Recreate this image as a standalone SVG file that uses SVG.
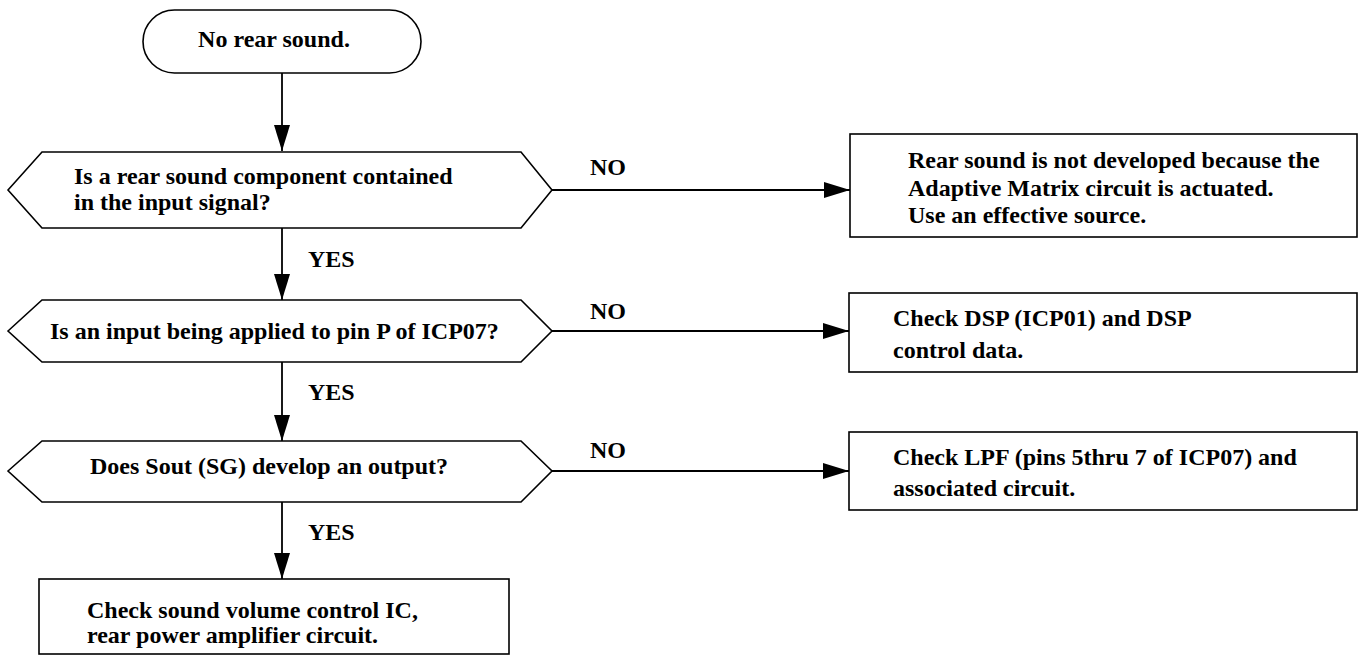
<svg xmlns="http://www.w3.org/2000/svg" width="1359" height="656" viewBox="0 0 1359 656">
  <style>
    .shape { fill: #ffffff; stroke: #000000; stroke-width: 1.6; }
    .label { font-family: "Liberation Serif", "Times New Roman", serif; font-weight: bold; font-size: 24px; fill: #000000; }
    .edge { fill: none; stroke: #000000; stroke-width: 1.8; }
  </style>
  <defs>
    <marker id="arrow" markerUnits="userSpaceOnUse" markerWidth="28" markerHeight="18" refX="26" refY="8" orient="auto">
      <path d="M0,0 L26,8 L0,16 Z" fill="#000000"/>
    </marker>
  </defs>
  <rect width="1359" height="656" fill="#ffffff"/>

  <!-- connectors -->
  <g id="connectors">
    <line class="edge" x1="282" y1="73" x2="282" y2="151" marker-end="url(#arrow)"/>
    <line class="edge" x1="282" y1="228" x2="282" y2="300" marker-end="url(#arrow)"/>
    <line class="edge" x1="282" y1="362" x2="282" y2="441" marker-end="url(#arrow)"/>
    <line class="edge" x1="282" y1="502" x2="282" y2="579" marker-end="url(#arrow)"/>
    <line class="edge" x1="552" y1="190" x2="850" y2="190" marker-end="url(#arrow)"/>
    <line class="edge" x1="552" y1="331" x2="849" y2="331" marker-end="url(#arrow)"/>
    <line class="edge" x1="552" y1="471" x2="849" y2="471" marker-end="url(#arrow)"/>
    <text class="label" x="308" y="267">YES</text>
    <text class="label" x="308" y="400">YES</text>
    <text class="label" x="308" y="540">YES</text>
    <text class="label" x="590" y="175">NO</text>
    <text class="label" x="590" y="319">NO</text>
    <text class="label" x="590" y="458">NO</text>
  </g>

  <!-- start -->
  <g id="start">
    <rect class="shape" x="143" y="10" width="278" height="63" rx="31.5" ry="31.5"/>
    <text class="label" x="274" y="47" text-anchor="middle">No rear sound.</text>
  </g>

  <!-- decision: rear component in input -->
  <g id="q-rear-component">
    <polygon class="shape" points="8,190 42,152 521,152 552,190 521,228 42,228"/>
    <text class="label" x="74" y="184">Is a rear sound component contained</text>
    <text class="label" x="74" y="210">in the input signal?</text>
  </g>

  <!-- decision: input at pin P -->
  <g id="q-pin-p">
    <polygon class="shape" points="8,331 42,300 521,300 552,331 521,362 42,362"/>
    <text class="label" x="50" y="339">Is an input being applied to pin P of ICP07?</text>
  </g>

  <!-- decision: Sout output -->
  <g id="q-sout">
    <polygon class="shape" points="8,471 42,441 521,441 552,471 521,502 42,502"/>
    <text class="label" x="90" y="474">Does Sout (SG) develop an output?</text>
  </g>

  <!-- result: adaptive matrix -->
  <g id="r-adaptive-matrix">
    <rect class="shape" x="850" y="134" width="507" height="103"/>
    <text class="label" x="908" y="168">Rear sound is not developed because the</text>
    <text class="label" x="908" y="196">Adaptive Matrix circuit is actuated.</text>
    <text class="label" x="908" y="223">Use an effective source.</text>
  </g>

  <!-- result: DSP -->
  <g id="r-dsp">
    <rect class="shape" x="849" y="293" width="508" height="79"/>
    <text class="label" x="893" y="326">Check DSP (ICP01) and DSP</text>
    <text class="label" x="893" y="358">control data.</text>
  </g>

  <!-- result: LPF -->
  <g id="r-lpf">
    <rect class="shape" x="849" y="432" width="508" height="78"/>
    <text class="label" x="893" y="465">Check LPF (pins 5thru 7 of ICP07) and</text>
    <text class="label" x="893" y="496">associated circuit.</text>
  </g>

  <!-- result: volume / power amp -->
  <g id="r-volume">
    <rect class="shape" x="39" y="579" width="470" height="75"/>
    <text class="label" x="87" y="618">Check sound volume control IC,</text>
    <text class="label" x="87" y="643">rear power amplifier circuit.</text>
  </g>
</svg>
